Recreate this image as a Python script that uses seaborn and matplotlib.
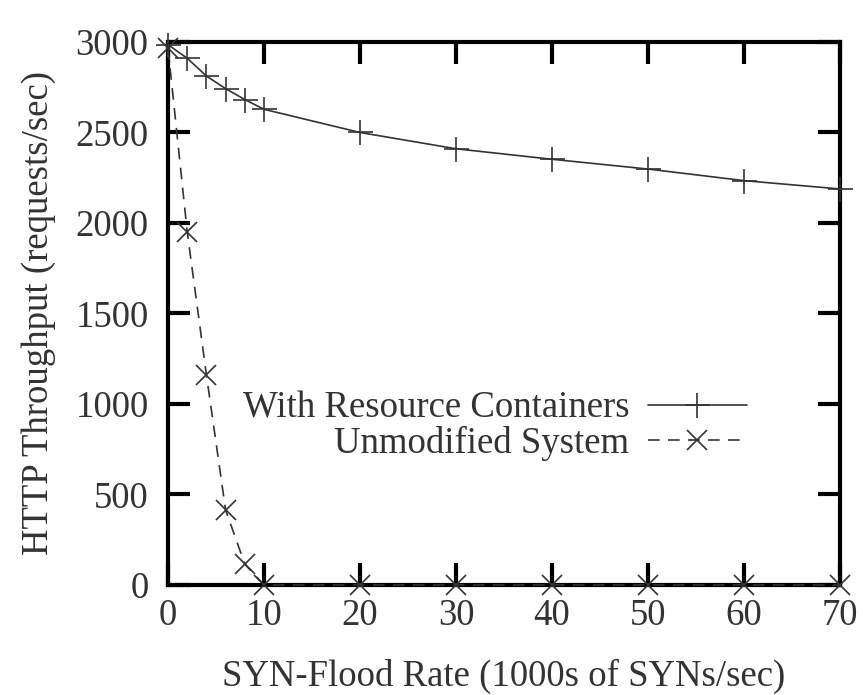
import pandas as pd
import matplotlib
matplotlib.use('Agg')
import matplotlib.pyplot as plt
import seaborn as sns

# valores
taxa_syn = [0, 2, 4, 6, 8, 10, 20, 30, 40, 50, 60, 70]
com_containers = [2985, 2910, 2812, 2742, 2682, 2628, 2500, 2410, 2352, 2298, 2234, 2188]
sem_modificacao = [2965, 1950, 1160, 414, 115, 0, 0, 0, 0, 0, 0, 0]

x_ticks = [0, 10, 20, 30, 40, 50, 60, 70]
y_ticks = [0, 500, 1000, 1500, 2000, 2500, 3000]

df = pd.DataFrame({'taxa': taxa_syn,
                   'containers': com_containers,
                   'unmodified': sem_modificacao})

sns.set_style('ticks')
plt.rcParams['font.family'] = ['Liberation Serif', 'DejaVu Serif']
plt.rcParams['text.color'] = '#333333'
plt.rcParams['axes.labelcolor'] = '#333333'
plt.rcParams['xtick.color'] = 'black'
plt.rcParams['ytick.color'] = 'black'
plt.rcParams['xtick.labelcolor'] = '#333333'
plt.rcParams['ytick.labelcolor'] = '#333333'

cor = '#333333'
fs = 26.5

fig = plt.figure(figsize=(8.63, 6.95), dpi=100)
ax = fig.add_axes([0.1947, 0.1583, 0.7786, 0.7813])

sns.lineplot(data=df, x='taxa', y='containers', ax=ax, color=cor,
             linewidth=1.2, marker='+', markersize=18, markeredgewidth=1.2,
             markeredgecolor=cor, markerfacecolor=cor,
             label='With Resource Containers', clip_on=False, zorder=5)
sns.lineplot(data=df, x='taxa', y='unmodified', ax=ax, color=cor,
             linewidth=1.2, linestyle=(0, (7, 5)), marker='x', markersize=15,
             markeredgewidth=1.2, markeredgecolor=cor, markerfacecolor=cor,
             label='Unmodified System', clip_on=False, zorder=5)

ax.set_xlim(0, 70)
ax.set_ylim(0, 3000)
ax.set_xticks(x_ticks)
ax.set_yticks(y_ticks)
ax.tick_params(direction='in', top=True, right=True, length=16, width=3,
               labelsize=fs)
ax.tick_params(axis='y', pad=14)
ax.tick_params(axis='x', pad=10)
for sp in ax.spines.values():
    sp.set_linewidth(3)
    sp.set_color('black')

ax.set_xlabel('SYN-Flood Rate (1000s of SYNs/sec)', fontsize=fs, labelpad=18)
ax.set_ylabel('HTTP Throughput (requests/sec)', fontsize=fs, labelpad=14)

ax.legend(loc='center right', bbox_to_anchor=(0.889, 0.293), frameon=False,
          markerfirst=False, fontsize=fs, handlelength=2.7, handletextpad=0.5,
          labelspacing=0.0, borderpad=0)

fig.savefig('out.png', dpi=100, facecolor='white')
